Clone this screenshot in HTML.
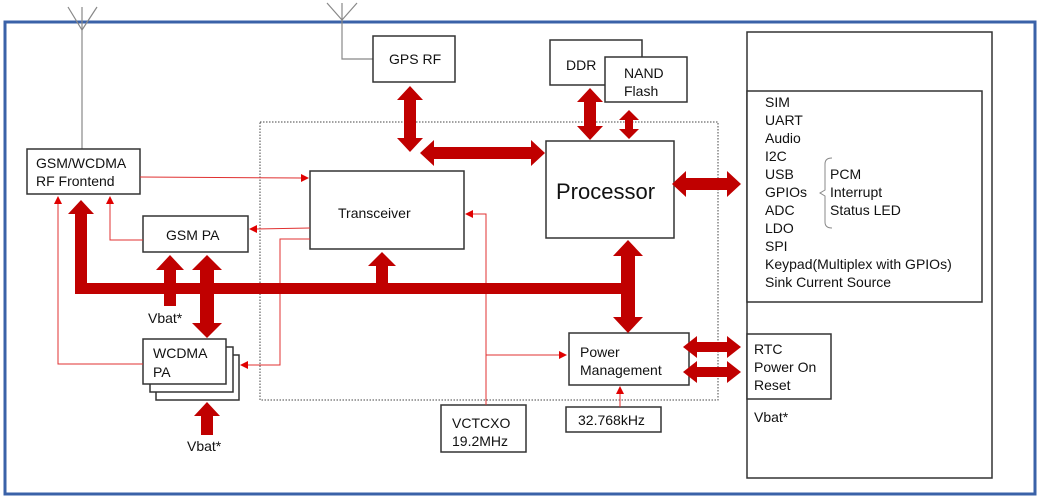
<!DOCTYPE html>
<html><head><meta charset="utf-8"><style>
html,body{margin:0;padding:0;background:#fff;}
svg{display:block;}
text{font-family:"Liberation Sans","Noto Sans CJK SC",sans-serif;fill:#111;font-size:14px;}
</style></head><body>
<svg width="1040" height="498" viewBox="0 0 1040 498" xmlns="http://www.w3.org/2000/svg">
<rect x="5" y="22" width="1030" height="472" fill="#fff" stroke="#3a62a8" stroke-width="3"/>
<!-- antennas -->
<g stroke="#888" stroke-width="1.2" fill="none">
<polyline points="68,7 82,30 97,7"/><line x1="82" y1="7" x2="82" y2="149"/>
<polyline points="327,3 342,20 357,3"/><polyline points="342,3 342,59 373,59"/>
</g>
<!-- dotted box -->
<rect x="260" y="122" width="458" height="278" fill="none" stroke="#444" stroke-width="1" stroke-dasharray="1.5,1.5"/>
<!-- boxes -->
<g fill="#fff" stroke="#333" stroke-width="1.5">
<rect x="373" y="36" width="82" height="46"/>
<rect x="27" y="149" width="113" height="45"/>
<rect x="310" y="171" width="154" height="78"/>
<rect x="546" y="141" width="128" height="97"/>
<rect x="550" y="40" width="92" height="45"/>
<rect x="605" y="57" width="82" height="45"/>
<rect x="747" y="32" width="245" height="446"/>
<rect x="747" y="91" width="235" height="211"/>
<rect x="747" y="334" width="84" height="65"/>
<rect x="569" y="333" width="120" height="52"/>
<rect x="566" y="407" width="95" height="25"/>
<rect x="441" y="405" width="85" height="47"/>
<rect x="143" y="216" width="105" height="36"/>
<rect x="156" y="355" width="83" height="45"/>
<rect x="150" y="347" width="83" height="45"/>
<rect x="143" y="339" width="83" height="45"/>
</g>
<!-- thin red lines -->
<g stroke="#e03030" stroke-width="1" fill="none">
<line x1="140" y1="177" x2="302" y2="178"/>
<line x1="310" y1="228" x2="256" y2="229"/>
<polyline points="310,239 280,239 280,365 246,365"/>
<polyline points="143,240 110,240 110,203"/>
<polyline points="143,364 58,364 58,203"/>
<polyline points="486,405 486,214 472,214"/>
<line x1="486" y1="355" x2="560" y2="355"/>
<line x1="620" y1="407" x2="620" y2="393"/>
</g>
<g fill="#e00000">
<polygon points="309,178 301,174 301,182"/>
<polygon points="249,229 257,225 257,233"/>
<polygon points="240,365 248,361 248,369"/>
<polygon points="110,196 106,204 114,204"/>
<polygon points="58,196 54,204 62,204"/>
<polygon points="465,214 473,210 473,218"/>
<polygon points="567,355 559,351 559,359"/>
<polygon points="620,386 616,394 624,394"/>
</g>
<!-- thick arrows -->
<g fill="#c00000">
<rect x="75" y="283" width="560" height="11"/>
<polygon points="410,86 423,100 416,100 416,138 423,138 410,152 397,138 404,138 404,100 397,100"/>
<polygon points="590,88 603,102 596,102 596,126 603,126 590,140 577,126 584,126 584,102 577,102"/>
<polygon points="629,110 639,120 633,120 633,129 639,129 629,139 619,129 625,129 625,120 619,120"/>
<polygon points="628,240 643,256 635,256 635,317 643,317 628,333 613,317 621,317 621,256 613,256"/>
<polygon points="207,255 222,270 214,270 214,323 222,323 207,338 192,323 200,323 200,270 192,270"/>
<polygon points="420,153 434,140 434,147 531,147 531,140 545,153 531,166 531,159 434,159 434,166"/>
<polygon points="672,184 686,171 686,178 727,178 727,171 741,184 727,197 727,190 686,190 686,197"/>
<polygon points="683,347 697,336 697,342 727,342 727,336 741,347 727,358 727,352 697,352 697,358"/>
<polygon points="683,372 697,361 697,367 727,367 727,361 741,372 727,383 727,377 697,377 697,383"/>
<polygon points="81,200 94,214 87,214 87,294 75,294 75,214 68,214"/>
<polygon points="170,255 184,270 176,270 176,306 164,306 164,270 156,270"/>
<polygon points="382,252 396,266 388,266 388,294 376,294 376,266 368,266"/>
<polygon points="207,402 220,416 213,416 213,435 201,435 201,416 194,416"/>
</g>
<!-- bracket -->
<path d="M832,158 Q825,158 825,164 L825,190 L820,193 L825,196 L825,222 Q825,228 832,228" fill="none" stroke="#888" stroke-width="1"/>
<!-- labels -->
<text x="389" y="64">GPS RF</text>
<text x="36" y="168">GSM/WCDMA</text>
<text x="36" y="186">RF Frontend</text>
<text x="338" y="218">Transceiver</text>
<text x="556" y="199" style="font-size:22px">Processor</text>
<text x="566" y="70">DDR</text>
<text x="624" y="78">NAND</text>
<text x="624" y="96">Flash</text>
<text x="166" y="240">GSM PA</text>
<text x="153" y="358">WCDMA</text>
<text x="153" y="377">PA</text>
<text x="148" y="323">Vbat*</text>
<text x="187" y="451">Vbat*</text>
<text x="580" y="357">Power</text>
<text x="580" y="375">Management</text>
<text x="578" y="425">32.768kHz</text>
<text x="452" y="428">VCTCXO</text>
<text x="452" y="446">19.2MHz</text>
<text x="754" y="354">RTC</text>
<text x="754" y="372">Power On</text>
<text x="754" y="390">Reset</text>
<text x="754" y="422">Vbat*</text>
<g>
<text x="765" y="107">SIM</text>
<text x="765" y="125">UART</text>
<text x="765" y="143">Audio</text>
<text x="765" y="161">I2C</text>
<text x="765" y="179">USB</text>
<text x="765" y="197">GPIOs</text>
<text x="765" y="215">ADC</text>
<text x="765" y="233">LDO</text>
<text x="765" y="251">SPI</text>
<text x="765" y="269">Keypad(Multiplex with GPIOs)</text>
<text x="765" y="287">Sink Current Source</text>
<text x="830" y="179">PCM</text>
<text x="830" y="197">Interrupt</text>
<text x="830" y="215">Status LED</text>
</g>
</svg>
</body></html>
